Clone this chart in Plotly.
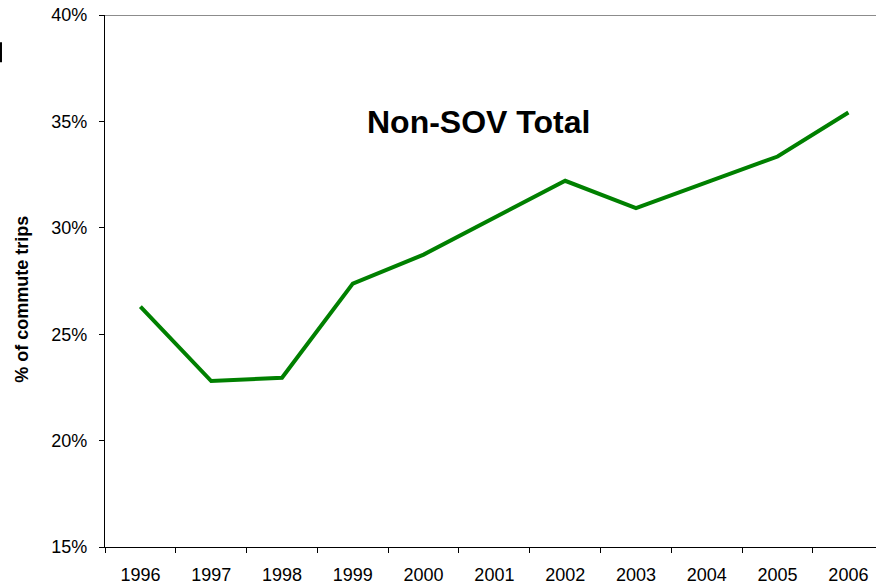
import plotly.graph_objects as go

years = ["1996", "1997", "1998", "1999", "2000", "2001", "2002", "2003", "2004", "2005", "2006"]
non_sov_total = [26.3, 22.8, 22.95, 27.38, 28.74, 30.49, 32.21, 30.93, 32.14, 33.35, 35.42]
y_ticks = [15, 20, 25, 30, 35, 40]
y_tick_labels = [f"{v}%" for v in y_ticks]

font_family = "Liberation Sans, Arial, sans-serif"

fig = go.Figure()
fig.add_trace(go.Scatter(
    x=years, y=non_sov_total, mode="lines",
    line=dict(color="#008000", width=4),
    showlegend=False, hoverinfo="x+y",
))

fig.update_xaxes(
    type="category",
    range=[-0.5, 10.39],
    tickson="boundaries",
    ticks="outside", ticklen=5, tickcolor="black", tickwidth=1.3,
    showline=True, linecolor="black", linewidth=1.3,
    showgrid=False, zeroline=False,
    tickfont=dict(family=font_family, size=18, color="black"),
    ticklabelstandoff=11,
)
fig.update_yaxes(
    range=[15, 40],
    tickvals=y_ticks, ticktext=y_tick_labels,
    ticks="outside", ticklen=5, tickcolor="black", tickwidth=1.3,
    showline=True, linecolor="black", linewidth=1.3,
    showgrid=False, zeroline=False,
    tickfont=dict(family=font_family, size=18, color="black"),
    ticklabelstandoff=8,
)

# grey top border of the plot area
fig.add_shape(type="line", xref="paper", yref="y", x0=0, x1=1, y0=40, y1=40,
              line=dict(color="#8c8c8c", width=2))
# small black mark at the left edge (cropped from the original slide)
fig.add_shape(type="line", xref="paper", yref="paper", x0=-0.1349, x1=-0.1349,
              y0=0.911, y1=0.9487, line=dict(color="black", width=2))

fig.add_annotation(text="<b>Non-SOV Total</b>", xref="paper", yref="paper",
                   x=0.4838, y=0.798, xanchor="center", yanchor="middle",
                   showarrow=False,
                   font=dict(family=font_family, size=32, color="black"))
fig.add_annotation(text="<b>% of commute trips</b>", xref="paper", yref="paper",
                   x=-0.1070, y=0.4656, xanchor="center", yanchor="middle",
                   showarrow=False, textangle=-90,
                   font=dict(family=font_family, size=18, color="black"))

fig.update_layout(
    width=876, height=588,
    margin=dict(l=105, r=0, t=15, b=41),
    plot_bgcolor="white", paper_bgcolor="white",
)

fig.write_html("out.html", config={"displayModeBar": False},
               post_script="document.body.style.margin='0px';")
